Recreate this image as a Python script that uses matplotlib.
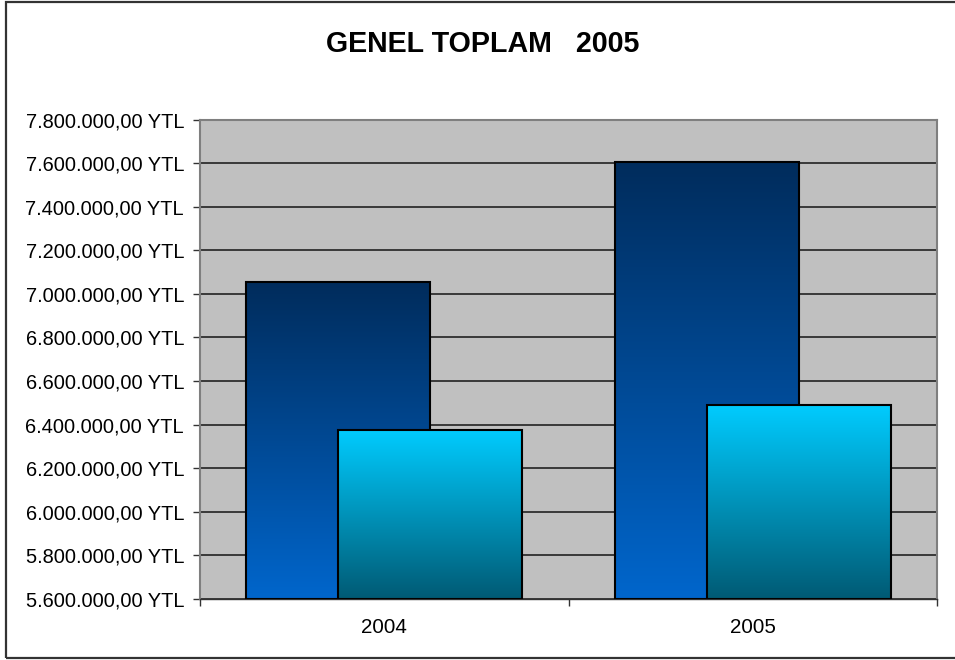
import matplotlib
matplotlib.use("Agg")
import matplotlib.pyplot as plt
import numpy as np
from matplotlib.colors import LinearSegmentedColormap
from matplotlib.patches import Rectangle
from matplotlib.ticker import FuncFormatter, MultipleLocator

years = ["2004", "2005"]
series_a = [7054000, 7606000]
series_b = [6377000, 6492000]

title = "GENEL TOPLAM   2005"


def tr_money(v, _pos=None):
    s = f"{v:,.2f}".replace(",", "X").replace(".", ",").replace("X", ".")
    return s + " YTL"


def gradient_bar(ax, rect, top_color, bottom_color):
    cmap = LinearSegmentedColormap.from_list("g", [bottom_color, top_color])
    x0, y0 = rect.get_x(), rect.get_y()
    w, h = rect.get_width(), rect.get_height()
    grad = np.linspace(0, 1, 256).reshape(-1, 1)
    im = ax.imshow(grad, cmap=cmap, origin="lower", aspect="auto",
                   extent=(x0, x0 + w, y0, y0 + h), zorder=rect.get_zorder() - 0.01,
                   interpolation="bilinear")
    im.set_clip_path(rect)
    rect.set_facecolor("none")


def main() -> None:
    plt.rcParams["font.family"] = ["Liberation Sans", "DejaVu Sans"]
    fig = plt.figure(figsize=(9.55, 6.6), dpi=100)
    ax = fig.add_axes([200 / 955, 1 - 599 / 660, 737 / 955, 479.5 / 660])

    ymin, ymax = 5600000, 7800000
    x = np.arange(len(years))
    width = 0.5
    off = 0.125

    bars_a = ax.bar(x - off, [v - ymin for v in series_a], width, bottom=ymin,
                    edgecolor="black", linewidth=1.5, zorder=3)
    bars_b = ax.bar(x + off, [v - ymin for v in series_b], width, bottom=ymin,
                    edgecolor="black", linewidth=1.5, zorder=4)
    for r in bars_a:
        gradient_bar(ax, r, "#002C5C", "#0066CC")
    for r in bars_b:
        gradient_bar(ax, r, "#00CCFF", "#005A74")

    ax.set_xlim(-0.5, len(years) - 0.5)
    ax.set_ylim(ymin, ymax)
    ax.set_facecolor("#C0C0C0")
    ax.yaxis.set_major_locator(MultipleLocator(200000))
    ax.yaxis.set_major_formatter(FuncFormatter(tr_money))
    ax.grid(axis="y", color="#222222", linewidth=1.2, zorder=1)
    ax.set_axisbelow(True)

    ax.set_xticks(np.arange(len(years) + 1) - 0.5, minor=False)
    ax.set_xticklabels([""] * (len(years) + 1))
    ax.set_xticks(x, minor=True)
    ax.set_xticklabels(years, minor=True)
    ax.tick_params(axis="x", which="minor", length=0, pad=14, labelsize=14.8)
    ax.tick_params(axis="x", which="major", length=5, width=1, color="#333333", direction="out")
    ax.tick_params(axis="y", length=5, width=1, color="#333333", pad=6.5, labelsize=14.4)

    for side in ["left", "top", "right"]:
        ax.spines[side].set_color("#7F7F7F")
        ax.spines[side].set_linewidth(1.5)
    ax.spines["bottom"].set_color("#333333")
    ax.spines["bottom"].set_linewidth(1.0)

    fig.text(483 / 955, 1 - 44 / 660, title, ha="center", va="center",
             fontsize=20.6, fontweight="bold")

    border = Rectangle((6 / 955, 2 / 660), 1.0, 656 / 660, transform=fig.transFigure,
                       fill=False, edgecolor="#333333", linewidth=1.6, clip_on=False)
    fig.patches.append(border)

    fig.savefig("out.png", dpi=100)


if __name__ == "__main__":
    main()
